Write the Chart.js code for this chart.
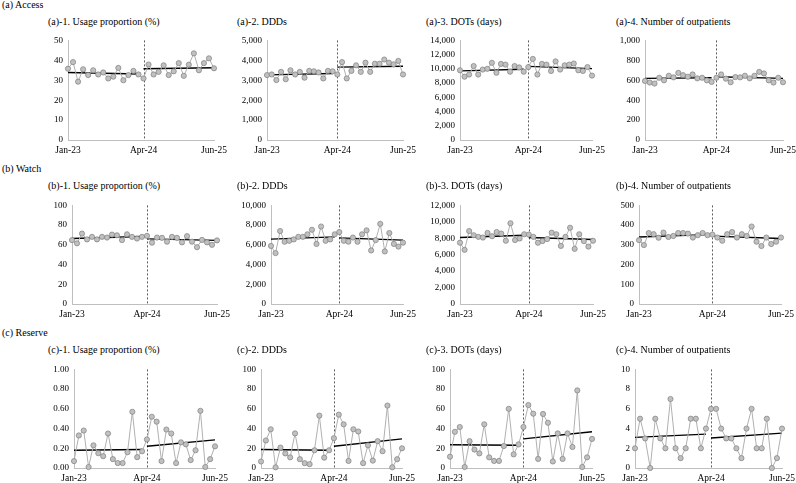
<!DOCTYPE html>
<html lang="en">
<head>
<meta charset="UTF-8">
<title>Access / Watch / Reserve - interrupted time series</title>
<script src="https://cdn.jsdelivr.net/npm/chart.js"></script>
<style>
  body {
    margin: 0;
    background: #fff;
    width: 796px;
    height: 483px;
    position: relative;
    overflow: hidden;
    font-family: 'Liberation Serif', 'DejaVu Serif', serif;
    color: #000;
  }
  .lbl {
    position: absolute;
    font-size: 10px;
    font-weight: normal;
    line-height: 14px;
    white-space: nowrap;
  }
  canvas { position: absolute; }
</style>
</head>
<body>
<script>
// months, Jan-23 .. Jun-25 ; intervention at Apr-24 (index 15)
const months = ['Jan-23','Feb-23','Mar-23','Apr-23','May-23','Jun-23','Jul-23','Aug-23','Sep-23','Oct-23','Nov-23','Dec-23',
  'Jan-24','Feb-24','Mar-24','Apr-24','May-24','Jun-24','Jul-24','Aug-24','Sep-24','Oct-24','Nov-24','Dec-24',
  'Jan-25','Feb-25','Mar-25','Apr-25','May-25','Jun-25'];
const breakIndex = 15;
const shownTicks = [0, 15, 29];

const rowNames = ['(a) Access', '(b) Watch', '(c) Reserve'];
const measureNames = ['Usage proportion (%)', 'DDDs', 'DOTs (days)', 'Number of outpatients'];

// monthly values
const accessUsage = [35.8,39.1,29.3,35.5,32.6,35.0,32.9,33.9,30.9,31.8,36.2,30.0,32.6,34.7,32.9,
  30.9,37.9,32.9,34.2,37.5,32.6,34.5,38.6,32.2,37.8,43.5,35.0,38.6,41.0,36.0];
const accessDDDs = [3260,3290,3010,3420,3050,3500,3290,3420,3130,3470,3450,3390,3090,3470,3450,
  3290,3910,3090,3470,3750,3420,3880,3420,3830,3830,4040,3880,3800,3970,3290];
const accessDOTs = [9800,8900,9200,10400,9200,9900,10000,10850,9450,10700,10600,9600,10400,10200,9600,
  10250,11400,9200,10700,10600,9700,11050,9900,10500,10600,10750,9800,9700,10250,9050];
const accessOutpatients = [593,577,567,625,599,645,629,674,651,635,658,619,625,599,583,
  625,658,616,580,632,629,645,619,645,684,668,599,577,625,580];

const watchUsage = [64.8,61.5,71.4,65.5,68.1,65.5,68.1,67.4,70.4,69.7,64.8,70.7,68.1,66.4,68.1,
  69.1,62.2,67.4,67.1,63.2,68.1,67.1,62.5,68.8,63.2,57.6,65.0,62.5,60.0,64.5];
const watchDDDs = [5890,5160,7400,6320,6410,6550,6810,6810,7070,7530,6090,7860,6410,6550,7070,
  7300,6410,6320,6740,6320,7070,7470,5430,6480,8130,5330,7200,6090,5820,6220];
const watchDOTs = [7460,6590,8880,8370,8170,8090,8650,8250,8760,8570,7700,9830,7780,7970,8490,
  8450,8170,7460,7660,7900,8680,8490,7070,8170,9280,6710,8490,7660,6990,7700];
const watchOutpatients = [324,299,360,354,336,362,340,345,360,360,357,337,349,360,349,
  352,337,321,354,365,337,354,345,393,316,294,337,304,316,337];

const reserveUsage = [0.07,0.33,0.38,0.01,0.23,0.15,0.12,0.35,0.09,0.05,0.05,0.16,0.57,0.11,0.17,
  0.29,0.52,0.47,0.07,0.39,0.35,0.05,0.26,0.24,0.08,0.18,0.58,0.01,0.09,0.22];
const reserveDDDs = [6.6,27.9,39.3,0.7,20.7,14.8,10.8,35.1,8.9,4.9,3.9,18.0,53.1,10.5,18.0,
  30.2,54.1,44.3,7.2,39.3,37.0,4.9,23.0,7.5,27.2,17.0,63.3,0.7,8.9,20.0];
const reserveDOTs = [11.5,36.7,41.6,1.0,27.2,18.7,14.8,44.3,10.8,7.2,7.2,22.3,60.0,13.8,23.9,
  41.6,63.9,55.1,9.2,54.8,45.9,6.6,35.1,9.2,35.1,21.3,78.7,1.0,10.8,29.5];
const reserveOutpatients = [2,5,3,0,5,3,2,7,2,1,2,5,5,2,4,
  6,6,4,3,3,2,1,4,6,2,2,5,0,1,4];

// fitted segments: [pre start, pre end, post start, post end]
const trendAccess = [[33.9,33.1,35.8,36.3],[3270,3340,3660,3700],[9710,9940,10350,10030],[619,625,635,619]];
const trendWatch = [[66.5,68.5,66.0,64.5],[6580,6810,6710,6480],[8090,8370,8090,7850],[340,352,344,332]];
const trendReserve = [[0.18,0.187,0.22,0.285],[18.7,18.0,22.0,29.5],[23.6,23.0,29.5,36.7],[3.11,3.44,3.05,3.54]];

// y axis ranges
const yMax = [50,5000,14000,1000, 100,10000,12000,500, 1,100,100,10];
const yStep = [10,1000,2000,200, 20,2000,2000,100, 0.2,20,20,2];

const series = [accessUsage, accessDDDs, accessDOTs, accessOutpatients,
  watchUsage, watchDDDs, watchDOTs, watchOutpatients,
  reserveUsage, reserveDDDs, reserveDOTs, reserveOutpatients];
const trends = trendAccess.concat(trendWatch, trendReserve);

// layout (px): plot area x-range per panel, y-range per row
const plotX = [
  [[68,214],[267,403],[460,592],[645,783]],
  [[72,217],[271,403],[460,593],[639,781]],
  [[74,215],[261,402],[450,592],[635,782]]
];
const rowTop = [38, 203, 367];
const rowBottom = [140, 304, 468];
const titleX = [48, 237, 426, 616];
const titleY = [22, 186, 350];
const rowLabelY = [5, 169, 333];

const YW = 40, PT = 8, PR = 24, XH = 20;

Chart.defaults.font.family = "'Liberation Serif', 'DejaVu Serif', serif";
Chart.defaults.color = '#000';

const breakLine = {
  id: 'breakLine',
  beforeDatasetsDraw(chart) {
    const { ctx, chartArea, scales } = chart;
    const x = Math.round(scales.x.getPixelForValue(breakIndex)) + 0.5;
    ctx.save();
    ctx.strokeStyle = '#333';
    ctx.lineWidth = 0.8;
    ctx.setLineDash([2, 2]);
    ctx.beginPath();
    ctx.moveTo(x, chartArea.top);
    ctx.lineTo(x, chartArea.bottom);
    ctx.stroke();
    ctx.restore();
  }
};

function addLabel(text, x, yc) {
  const d = document.createElement('div');
  d.className = 'lbl';
  d.textContent = text;
  d.style.left = x + 'px';
  d.style.top = (yc - 7) + 'px';
  document.body.appendChild(d);
}

function fmtTick(v, i) {
  if (i === 8) return v.toFixed(2);
  return Math.round(v).toLocaleString('en-US');
}

rowNames.forEach((name, r) => addLabel(name, 2, rowLabelY[r]));

for (let i = 0; i < 12; i++) {
  const r = Math.floor(i / 4), c = i % 4;
  const letter = 'abc'[r];
  addLabel('(' + letter + ')-' + (c + 1) + '. ' + measureNames[c], titleX[c], titleY[r]);

  const [x0, x1] = plotX[r][c];
  const canvas = document.createElement('canvas');
  const w = YW + (x1 - x0) + PR;
  const h = PT + (rowBottom[r] - rowTop[r]) + XH;
  canvas.width = w;
  canvas.height = h;
  canvas.style.left = (x0 - YW) + 'px';
  canvas.style.top = (rowTop[r] - PT) + 'px';
  canvas.style.width = w + 'px';
  canvas.style.height = h + 'px';
  document.body.appendChild(canvas);

  const t = trends[i];
  const pre = months.map((m, k) => k === 0 ? t[0] : (k === breakIndex - 1 ? t[1] : null));
  const post = months.map((m, k) => k === breakIndex ? t[2] : (k === months.length - 1 ? t[3] : null));

  new Chart(canvas, {
    type: 'line',
    data: {
      labels: months,
      datasets: [
        {
          data: series[i],
          borderColor: '#b0b0b0',
          borderWidth: 1,
          pointRadius: 2.6,
          pointBackgroundColor: '#c0c0c0',
          pointBorderColor: '#808080',
          pointBorderWidth: 0.7,
          tension: 0,
          clip: false
        },
        { data: pre, borderColor: '#000', borderWidth: 1.4, pointRadius: 0, spanGaps: true, clip: false },
        { data: post, borderColor: '#000', borderWidth: 1.4, pointRadius: 0, spanGaps: true, clip: false }
      ]
    },
    options: {
      responsive: false,
      animation: false,
      layout: { padding: { top: PT, right: PR, left: 0, bottom: 0 } },
      plugins: { legend: { display: false }, tooltip: { enabled: false } },
      scales: {
        x: {
          offset: false,
          grid: { display: false, drawTicks: false },
          border: { color: '#bfbfbf', width: 1 },
          ticks: {
            autoSkip: false,
            maxRotation: 0,
            padding: 5,
            font: { size: 9.5 },
            callback: (v, k) => shownTicks.includes(k) ? months[k] : ''
          },
          afterFit: s => { s.height = XH; }
        },
        y: {
          min: 0,
          max: yMax[i],
          grid: { display: false, drawTicks: false },
          border: { color: '#bfbfbf', width: 1 },
          ticks: {
            stepSize: yStep[i],
            padding: 5,
            font: { size: 9 },
            callback: v => fmtTick(v, i)
          },
          afterFit: s => { s.width = YW; }
        }
      }
    },
    plugins: [breakLine]
  });
}
</script>
</body>
</html>
